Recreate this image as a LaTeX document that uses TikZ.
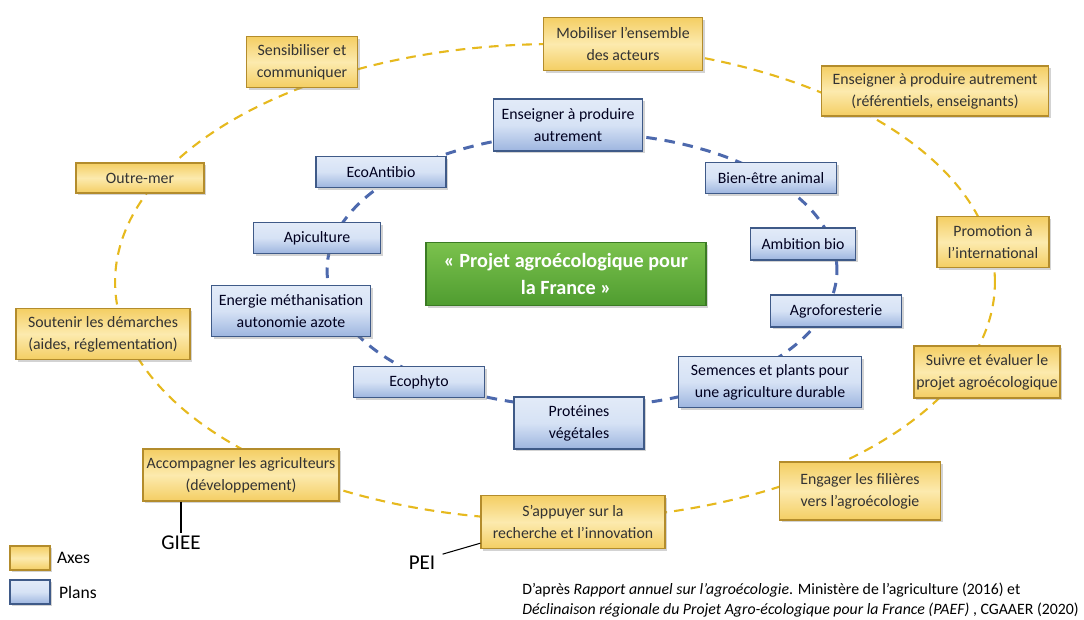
\documentclass[tikz,border=0pt]{standalone}
\usepackage{fontspec}
\setmainfont{Carlito}
\usetikzlibrary{shadows,positioning,calc,backgrounds}
\definecolor{axeline}{HTML}{B38C2C}
\definecolor{axeedge}{HTML}{F4CE63}
\definecolor{axemid}{HTML}{FCEAAE}
\definecolor{planline}{HTML}{3F5A88}
\definecolor{planedge}{HTML}{9DB5DF}
\definecolor{planmid}{HTML}{D6E2F5}
\definecolor{pjtop}{HTML}{7BC24D}
\definecolor{pjbot}{HTML}{4F9C30}
\definecolor{pjline}{HTML}{3B7B24}
\definecolor{axedash}{HTML}{E6B91E}
\definecolor{plandash}{HTML}{4D69AD}

\begin{document}
\begin{tikzpicture}
[x=0.02cm,y=-0.02cm,
box/.style={shape=rectangle,inner sep=0pt,align=center,
  drop shadow={shadow xshift=1.2pt,shadow yshift=-1.2pt,opacity=0.35}},
axe/.style={box,draw=axeline,line width=0.8pt,top color=axeedge,bottom color=axeedge,
  middle color=axemid,text=black!80,font=\fontsize{9}{12.5}\selectfont},
plan/.style={box,draw=planline,line width=0.8pt,top color=planmid!70!white,bottom color=planedge,
  middle color=planmid,text=black!80!blue!60!black,font=\fontsize{9}{12.5}\selectfont},
projet/.style={box,draw=pjline,line width=0.8pt,top color=pjtop,bottom color=pjbot,
  text=white,font=\fontsize{11.5}{15.3}\selectfont\bfseries},
sz/.style 2 args={minimum width=#1,minimum height=#2},
axecircle/.style={draw=axedash,line width=1.2pt,dash pattern=on 5.5pt off 4pt},
plancircle/.style={draw=plandash,line width=1.7pt,dash pattern=on 6pt off 4.5pt},
callout/.style={draw=black,line width=0.6pt}]

\useasboundingbox (0,0) rectangle (1084,619);

\coordinate (cA) at (555,282);
\coordinate (cP) at (582,270);
\draw[axecircle] (cA) ellipse [x radius=8.8cm,y radius=4.76cm];
\draw[plancircle] (cP) ellipse [x radius=5.1cm,y radius=2.74cm];

\node (sensib) [axe,sz={2.22cm}{1.02cm}] at (302,62) {Sensibiliser et\\communiquer};
\node (mobil) [axe,sz={3.18cm}{1.06cm}] at (623,44) {Mobiliser l’ensemble\\des acteurs};
\node (enseignA) [axe,sz={4.54cm}{1.0cm}] at (935,91) {Enseigner à produire autrement\\(référentiels, enseignants)};
\node (outremer) [axe,sz={2.56cm}{0.6cm}] at (140,178) {Outre-mer};
\node (promo) [axe,sz={2.24cm}{1.02cm}] at (993,242) {Promotion à\\l’international};
\node (soutenir) [axe,sz={3.48cm}{1.02cm}] at (103,334) {Soutenir les démarches\\(aides, réglementation)};
\node (suivre) [axe,sz={2.92cm}{1.04cm}] at (987,372) {Suivre et évaluer le\\projet agroécologique};
\node (accomp) [axe,sz={3.92cm}{1.04cm}] at (241,475) {Accompagner les agriculteurs\\(développement)};
\node (engager) [axe,sz={3.22cm}{1.16cm}] at (860,491) {Engager les filières\\vers l’agroécologie};
\node (recherche) [axe,sz={3.68cm}{1.06cm}] at (573,522) {S’appuyer sur la\\recherche et l’innovation};

\node (enseignP) [plan,sz={2.98cm}{1.04cm}] at (568,125) {Enseigner à produire\\autrement};
\node (ecoantibio) [plan,sz={2.6cm}{0.62cm}] at (381,172) {EcoAntibio};
\node (bienetre) [plan,sz={2.62cm}{0.62cm}] at (771,178) {Bien-être animal};
\node (apicult) [plan,sz={2.54cm}{0.62cm}] at (317,238) {Apiculture};
\node (ambition) [plan,sz={2.1cm}{0.64cm}] at (803,244) {Ambition bio};
\node (energie) [plan,sz={3.18cm}{1.02cm}] at (291,311) {Energie méthanisation\\autonomie azote};
\node (agrofor) [plan,sz={2.62cm}{0.64cm}] at (836,311) {Agroforesterie};
\node (ecophyto) [plan,sz={2.62cm}{0.62cm}] at (419,382) {Ecophyto};
\node (semences) [plan,sz={3.66cm}{1.02cm}] at (770,382) {Semences et plants pour\\une agriculture durable};
\node (proteines) [plan,sz={2.6cm}{1.04cm}] at (579,423) {Protéines\\végétales};

\node (pae) [projet,sz={5.6cm}{1.26cm}] at (566,274) {« Projet agroécologique pour\\la France »};

\node (giee) [inner sep=0pt,font=\fontsize{12}{14}\selectfont] at (181,543) {GIEE};
\node (pei) [inner sep=0pt,font=\fontsize{12}{14}\selectfont] at (422,563) {PEI};
\draw[callout] (giee.north |- accomp.south) -- ([yshift=1.5pt]giee.north);
\draw[callout] ([xshift=4pt,yshift=1pt]pei.north east) -- ([yshift=0.12cm]recherche.south west);

\node (legaxe) [axe,sz={0.8cm}{0.48cm}] at (30,558) {};
\node (legplan) [plan,sz={0.8cm}{0.48cm}] at (30,592) {};
\node (laxe) [right=0.12cm of legaxe,inner sep=0pt,font=\fontsize{10}{12}\selectfont] {Axes};
\node (lplan) [right=0.16cm of legplan,inner sep=0pt,font=\fontsize{10}{12}\selectfont] {Plans};

\node (source) [anchor=west,inner sep=0pt,align=left,font=\fontsize{9}{11}\selectfont] at (522,600)
{D’après \textit{Rapport annuel sur l’agroécologie}. Ministère de l’agriculture (2016) et\\
\textit{Déclinaison régionale du Projet Agro-écologique pour la France (PAEF)} , CGAAER (2020)};

\end{tikzpicture}
\end{document}
